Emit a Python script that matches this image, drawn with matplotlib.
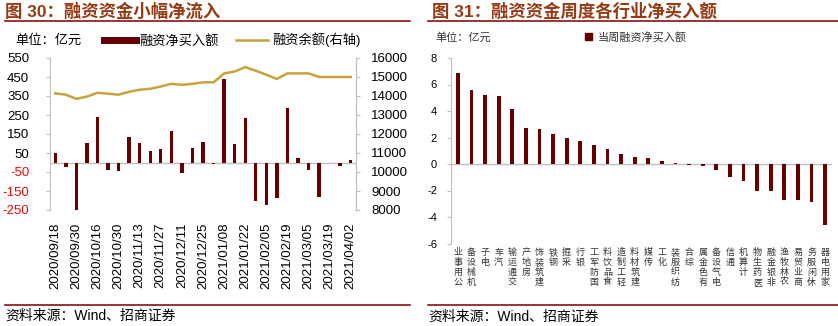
import matplotlib
matplotlib.use("Agg")
import matplotlib.pyplot as plt
from matplotlib.lines import Line2D
from matplotlib.patches import Patch

plt.rcParams['font.family'] = ['Liberation Sans', 'Noto Sans CJK SC']
plt.rcParams['axes.unicode_minus'] = False

# weekly financing net buy (亿元) and financing balance (亿元, right axis)
weeks = ["2020/09/18", "2020/09/25", "2020/09/30", "2020/10/09", "2020/10/16",
         "2020/10/23", "2020/10/30", "2020/11/06", "2020/11/13", "2020/11/20",
         "2020/11/27", "2020/12/04", "2020/12/11", "2020/12/18", "2020/12/25",
         "2020/12/31", "2021/01/08", "2021/01/15", "2021/01/22", "2021/01/29",
         "2021/02/05", "2021/02/10", "2021/02/19", "2021/02/26", "2021/03/05",
         "2021/03/12", "2021/03/19", "2021/03/26", "2021/04/02"]
net_buy = [51, -26, -252, 104, 240, -42, -47, 135, 104, 61,
           72, 167, -53, 77, 109, -10, 440, 98, 235, -200,
           -226, -189, 288, 25, -42, -184, -5, -21, 14]
balance = [14140, 14070, 13850, 13970, 14170, 14120, 14070, 14220, 14330, 14380,
           14500, 14640, 14590, 14640, 14720, 14720, 15190, 15290, 15520, 15330,
           15120, 14900, 15190, 15190, 15190, 15000, 15000, 15000, 15000]

# industry net buy of the week (亿元)
industries = ["公用事业", "机械设备", "电子", "汽车", "交通运输", "房地产", "建筑装饰",
              "钢铁", "采掘", "银行", "国防军工", "食品饮料", "轻工制造", "建筑材料",
              "传媒", "化工", "纺织服装", "综合", "有色金属", "电气设备", "通信",
              "计算机", "医药生物", "非银金融", "农林牧渔", "商业贸易", "休闲服务", "家用电器"]
ind_buy = [6.87, 5.56, 5.18, 5.13, 4.18, 2.74, 2.67, 2.29, 1.96, 1.71,
           1.43, 1.11, 0.75, 0.55, 0.48, 0.20, 0.08, -0.08, -0.13, -0.43,
           -0.96, -1.28, -2.06, -2.06, -2.74, -2.74, -2.87, -4.58]

W, H = 838, 326
BAR = '#660000'
GOLD = '#C9A23C'
GRAY = '#BFBFBF'
TITLE = '#973A14'
RULE = '#8B1010'

fig = plt.figure(figsize=(W / 100, H / 100), dpi=100)

def fx(px):
    return px / W

def fy(py):
    return 1 - py / H

# titles, rules and sources
fig.text(fx(5), fy(11), "图 30：融资资金小幅净流入", fontsize=12.5, fontweight='bold',
         color=TITLE, va='center', ha='left')
fig.text(fx(432), fy(11), "图 31：融资资金周度各行业净买入额", fontsize=12.5, fontweight='bold',
         color=TITLE, va='center', ha='left')
for x0, x1 in [(5, 410), (428, 838)]:
    fig.add_artist(Line2D([fx(x0), fx(x1)], [fy(21), fy(21)], color=RULE, lw=1.2,
                          transform=fig.transFigure))
    fig.add_artist(Line2D([fx(x0), fx(x1)], [fy(304.5), fy(304.5)], color=RULE, lw=1.2,
                          transform=fig.transFigure))
fig.text(fx(5), fy(316), "资料来源：Wind、招商证券", fontsize=10, va='center', ha='left')
fig.text(fx(428), fy(317), "资料来源：Wind、招商证券", fontsize=10, va='center', ha='left')

# ---- left chart ----
ax1 = fig.add_axes([fx(50), fy(210), fx(306), 152 / H])
x = list(range(len(weeks)))
ax1.bar(x, net_buy, width=0.32, color=BAR, zorder=3)
ax1.axhline(0, color=GRAY, lw=1, zorder=2)
ax1.set_xlim(-0.5, len(weeks) - 0.5)
ax1.set_ylim(-250, 550)
ax1.set_yticks(range(-250, 551, 100))
ax1.set_xticks(x[::2])
ax1.set_xticklabels(weeks[::2], rotation=90, fontsize=9.5)
ax1.tick_params(axis='x', length=0, pad=9)
ax1.tick_params(axis='y', length=3, color=GRAY, pad=12, labelsize=9.5)
for lab in ax1.get_yticklabels():
    if lab.get_text().startswith('-'):
        lab.set_color('red')
for s in ['top', 'bottom']:
    ax1.spines[s].set_visible(False)
for s in ['left', 'right']:
    ax1.spines[s].set_color(GRAY)

ax2 = ax1.twinx()
ax2.plot(x, balance, color=GOLD, lw=1.8, zorder=4)
ax2.set_ylim(8000, 16000)
ax2.set_yticks(range(8000, 16001, 1000))
ax2.tick_params(axis='y', length=3, color=GRAY, pad=8, labelsize=9.5)
for s in ['top', 'bottom', 'left']:
    ax2.spines[s].set_visible(False)
ax2.spines['right'].set_color(GRAY)

fig.text(fx(15), fy(40), "单位：亿元", fontsize=9.5, va='center', ha='left')
fig.legend(handles=[Line2D([], [], color=BAR, lw=5), Line2D([], [], color=GOLD, lw=1.8)],
           labels=["融资净买入额", "融资余额(右轴)"], ncol=2, frameon=False,
           loc='center left', bbox_to_anchor=(fx(104), fy(40)),
           bbox_transform=fig.transFigure, fontsize=9.5, borderaxespad=0, borderpad=0,
           handlelength=2.4, handletextpad=0.3, columnspacing=1.3)

# ---- right chart ----
ax3 = fig.add_axes([fx(451), fy(243.5), fx(381), 185.5 / H])
xi = list(range(len(industries)))
ax3.bar(xi, ind_buy, width=0.28, color=BAR, zorder=3)
ax3.axhline(0, color=GRAY, lw=1, zorder=2)
ax3.set_xlim(-0.5, len(industries) - 0.5)
ax3.set_ylim(-6, 8)
ax3.set_yticks(range(-6, 9, 2))
ax3.set_xticks(xi)
ax3.set_xticklabels(["\n".join(reversed(name)) for name in industries],
                    fontsize=6.5, linespacing=1.15, color='#333333')
ax3.tick_params(axis='x', length=0, pad=3)
ax3.tick_params(axis='y', length=3, color=GRAY, pad=7, labelsize=8)
for s in ['top', 'bottom', 'right']:
    ax3.spines[s].set_visible(False)
ax3.spines['left'].set_color(GRAY)

fig.text(fx(435), fy(37), "单位：亿元", fontsize=8, va='center', ha='left', color='#333333')
fig.legend(handles=[Patch(color=BAR)], labels=["当周融资净买入额"], frameon=False,
           loc='center left', bbox_to_anchor=(fx(585), fy(37)),
           bbox_transform=fig.transFigure, fontsize=8, borderaxespad=0, borderpad=0,
           handlelength=0.6, handleheight=0.6, handletextpad=0.5, labelcolor='#333333')

fig.savefig("out.png", dpi=100)
